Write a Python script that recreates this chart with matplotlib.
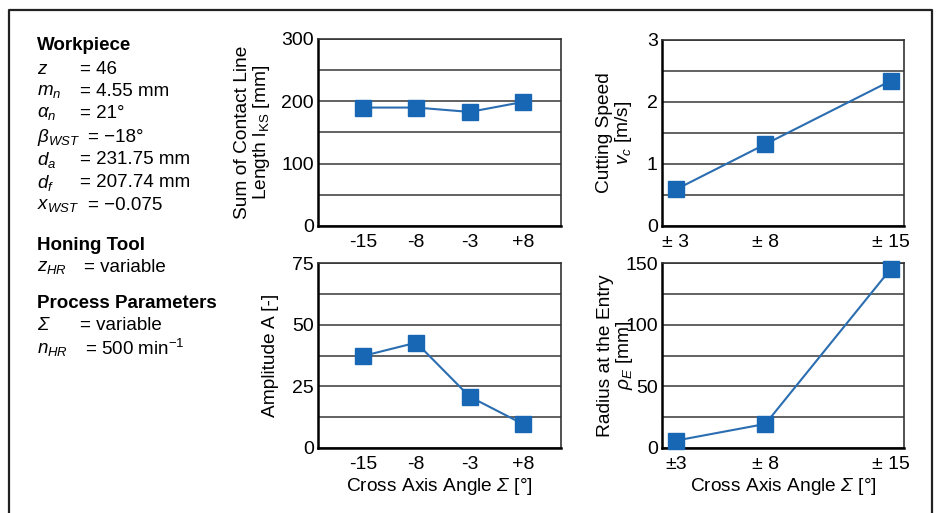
import numpy as np
import matplotlib
matplotlib.use("Agg")
import matplotlib.pyplot as plt
from matplotlib.lines import Line2D

plt.rcParams['font.family'] = ['Liberation Sans', 'DejaVu Sans']
plt.rcParams['mathtext.fontset'] = 'custom'
plt.rcParams['mathtext.rm'] = 'Liberation Sans'
plt.rcParams['mathtext.it'] = 'Liberation Sans:italic'
plt.rcParams['mathtext.bf'] = 'Liberation Sans:bold'
# italic font under \mathsf so that capital Greek (Σ) comes out slanted
plt.rcParams['mathtext.sf'] = 'Liberation Sans:italic'

# data
contact_labels = ['-15', '-8', '-3', '+8']
contact_length = [190, 190, 183, 199]
amplitude = [37.3, 42.7, 20.8, 9.7]

angle_pm = [3, 8, 15]
speed_labels = ['± 3', '± 8', '± 15']
radius_labels = ['±3', '± 8', '± 15']
cutting_speed = [0.59, 1.32, 2.34]
entry_radius = [6, 19.5, 145]

# left-hand parameter block: symbol, value, y pixel, x of '=' sign
params = [
    (r'$z$', '= 46', 69, 80),
    (r'$m_n$', '= 4.55 mm', 92, 80),
    (r'$\alpha_n$', '= 21°', 114, 80),
    (r'$\beta_{WST}$', '= −18°', 137, 88),
    (r'$d_a$', '= 231.75 mm', 160, 80),
    (r'$d_f$', '= 207.74 mm', 183, 80),
    (r'$x_{WST}$', '= −0.075', 206, 88),
    (r'$z_{HR}$', '= variable', 268, 84),
    (r'$\mathsf{Σ}$', '= variable', 326, 80),
    (r'$n_{HR}$', r'= 500 min$^{-1}$', 349, 85),
]
headings = [('Workpiece', 46), ('Honing Tool', 245), ('Process Parameters', 303)]
xlabel = r'Cross Axis Angle $\mathsf{Σ}$ [°]'

W, H = 938, 513
BLUE = '#1767b5'
LINE = '#2a6db0'
TICK_FS = 14
LABEL_FS = 13.8
TEXT_FS = 13.5

fig = plt.figure(figsize=(W / 100, H / 100), dpi=100)


def px_axes(x0, y0, x1, y1):
    return fig.add_axes([x0 / W, 1 - y1 / H, (x1 - x0) / W, (y1 - y0) / H])


def style(ax, top, step):
    ax.set_ylim(0, top)
    ax.set_yticks(np.arange(0, top + step / 2, step))
    ax.set_yticks(np.arange(step / 2, top, step), minor=True)
    ax.grid(True, which='both', axis='y', color='#555555', lw=1.3)
    ax.set_axisbelow(True)
    ax.tick_params(which='both', length=0, labelsize=TICK_FS, pad=3)
    ax.tick_params(axis='x', pad=6)
    for s in ['left', 'bottom']:
        ax.spines[s].set_linewidth(1.8)
    for s in ['top', 'right']:
        ax.spines[s].set_linewidth(1.2)
        ax.spines[s].set_color('#333333')


def draw(ax, x, y):
    ax.plot(x, y, color=LINE, lw=1.5, marker='s', ms=11, mfc=BLUE, mec=BLUE, clip_on=False, zorder=3)


# top left: contact line length
ax1 = px_axes(318, 39, 561, 226)
pos = np.arange(len(contact_labels))
draw(ax1, pos, contact_length)
ax1.set_xlim(-0.84, 3.71)
ax1.set_xticks(pos, contact_labels)
style(ax1, 300, 100)
ax1.set_ylabel('Sum of Contact Line\nLength $\\mathregular{l_{KS}}$ [mm]', fontsize=LABEL_FS, linespacing=1.0)
ax1.yaxis.set_label_coords(-0.19, 0.5)

# top right: cutting speed
ax2 = px_axes(662, 40, 904, 226)
draw(ax2, angle_pm, cutting_speed)
ax2.set_xlim(2.22, 15.75)
ax2.set_xticks(angle_pm, speed_labels)
style(ax2, 3, 1)
ax2.set_ylabel('Cutting Speed\n$v_c$ [m/s]', fontsize=LABEL_FS, linespacing=1.0)
ax2.yaxis.set_label_coords(-0.116, 0.5)

# bottom left: amplitude
ax3 = px_axes(318, 263, 561, 448)
draw(ax3, pos, amplitude)
ax3.set_xlim(-0.84, 3.71)
ax3.set_xticks(pos, contact_labels)
style(ax3, 75, 25)
ax3.set_ylabel('Amplitude A [-]', fontsize=LABEL_FS)
ax3.yaxis.set_label_coords(-0.16, 0.5)
ax3.set_xlabel(xlabel, fontsize=LABEL_FS, labelpad=2)

# bottom right: radius at the entry
ax4 = px_axes(662, 263, 904, 448)
draw(ax4, angle_pm, entry_radius)
ax4.set_xlim(2.22, 15.75)
ax4.set_xticks(angle_pm, radius_labels)
style(ax4, 150, 50)
ax4.set_ylabel('Radius at the Entry\n$\\rho_E$ [mm]', fontsize=LABEL_FS, linespacing=1.0)
ax4.yaxis.set_label_coords(-0.112, 0.5)
ax4.set_xlabel(xlabel, fontsize=LABEL_FS, labelpad=2)

# parameter text block
for text, y in headings:
    fig.text(37 / W, 1 - y / H, text, fontsize=TEXT_FS, fontweight='bold', va='center', ha='left')
for sym, val, y, xe in params:
    fig.text(37 / W, 1 - y / H, sym, fontsize=TEXT_FS, va='center', ha='left')
    fig.text(xe / W, 1 - y / H, val, fontsize=TEXT_FS, va='center', ha='left')

# outer frame (open at the bottom)
fx0, fx1, fy = 9 / W, 932 / W, 1 - 10 / H
fig.add_artist(Line2D([fx0, fx0, fx1, fx1], [0, fy, fy, 0], color='#222222', lw=1.6,
                      transform=fig.transFigure))

plt.savefig('out.png', dpi=100)
